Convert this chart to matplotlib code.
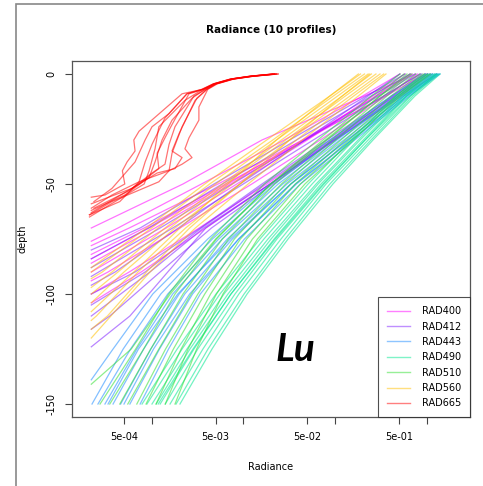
import matplotlib
matplotlib.use("Agg")
import matplotlib.pyplot as plt
from matplotlib.lines import Line2D
from matplotlib.patches import Rectangle

# depth grids (m) shared by the profiles of each band
DEPTH_A = [0, -10, -30, -50, -75, -100, -125, -150]
DEPTH_B = [0, -10, -30, -50, -70, -90, -110]
FLOOR = 2.2e-4  # radiance where a profile stops (detection limit)

# RAD400/412/560: values on DEPTH_B, then the depth where it reaches FLOOR
RAD400 = [
    [0.75, 0.21, 0.016, 2.2e-3],
    [0.96, 0.36, 0.045, 5.3e-3, 5.7e-4],
    [0.85, 0.34, 0.048, 6.4e-3, 8.3e-4],
    [0.66, 0.28, 0.047, 7.3e-3, 1.09e-3],
    [0.58, 0.26, 0.050, 8.5e-3, 1.44e-3],
    [0.80, 0.36, 0.069, 0.0124, 2.04e-3, 3.35e-4],
    [1.01, 0.46, 0.093, 0.018, 3.3e-3, 5.7e-4],
    [0.51, 0.20, 0.028, 3.5e-3, 4.3e-4],
    [0.89, 0.43, 0.095, 0.0196, 3.9e-3, 7.7e-4],
    [0.69, 0.29, 0.044, 6.8e-3, 9.4e-4],
]
RAD400_END = [-70, -78, -82, -86, -90, -94, -100, -76, -104, -84]

RAD412 = [
    [1.09, 0.49, 0.097, 0.0196, 3.9e-3, 1.5e-3, 5.8e-4],
    [1.27, 0.54, 0.10, 0.0196, 3.7e-3, 9.6e-4],
    [0.96, 0.42, 0.081, 0.016, 3.4e-3, 6.6e-4],
    [0.85, 0.34, 0.058, 0.010, 1.7e-3],
    [0.75, 0.30, 0.047, 7.6e-3, 1.24e-3],
    [0.66, 0.25, 0.038, 5.9e-3, 9.2e-4],
    [0.58, 0.22, 0.032, 4.8e-3, 7.5e-4],
    [1.15, 0.51, 0.10, 0.021, 4.5e-3, 1.24e-3, 3.5e-4],
    [1.03, 0.45, 0.088, 0.017, 3.5e-3, 8.5e-4],
    [0.51, 0.23, 0.047, 9.2e-3, 1.96e-3, 4.0e-4],
]
RAD412_END = [-124, -110, -100, -92, -88, -84, -80, -116, -105, -96]

RAD560 = [
    [0.36, 0.18, 0.044, 0.0113, 3.0e-3, 9.6e-4, 3.6e-4],
    [0.34, 0.16, 0.038, 9.2e-3, 2.35e-3, 7.1e-4, 2.5e-4],
    [0.31, 0.146, 0.032, 7.6e-3, 1.8e-3, 5.0e-4],
    [0.28, 0.13, 0.029, 6.4e-3, 1.59e-3, 4.3e-4],
    [0.25, 0.12, 0.026, 5.9e-3, 1.4e-3, 3.7e-4],
    [0.23, 0.107, 0.023, 5.0e-3, 1.18e-3, 2.9e-4],
    [0.21, 0.096, 0.021, 4.3e-3, 1.0e-3],
    [0.19, 0.088, 0.018, 3.8e-3, 8.8e-4],
    [0.18, 0.088, 0.023, 6.8e-3, 2.04e-3, 6.4e-4],
    [0.24, 0.12, 0.032, 9.2e-3, 2.6e-3, 8.8e-4, 3.3e-4],
]
RAD560_END = [-120, -112, -104, -100, -97, -93, -90, -88, -108, -116]

# RAD443/490/510: values on DEPTH_A (None = profile reaches -150)
RAD443 = [
    [1.40, 0.65, 0.164, 0.042, 0.0103, 3.4e-3, 1.53e-3, 7.5e-4],
    [1.33, 0.60, 0.150, 0.037, 8.9e-3, 2.8e-3, 1.22e-3, 5.8e-4],
    [1.27, 0.56, 0.135, 0.033, 7.6e-3, 2.3e-3, 9.8e-4, 4.6e-4],
    [1.21, 0.52, 0.125, 0.030, 6.7e-3, 2.0e-3, 8.2e-4, 3.8e-4],
    [1.15, 0.49, 0.113, 0.027, 5.9e-3, 1.7e-3, 6.9e-4, 3.1e-4],
    [1.09, 0.47, 0.105, 0.024, 5.4e-3, 1.5e-3, 5.9e-4, 2.6e-4],
    [1.03, 0.44, 0.095, 0.022, 4.6e-3, 1.26e-3, 4.9e-4, 2.24e-4],
    [1.30, 0.57, 0.138, 0.033, 7.2e-3, 1.93e-3, 7.2e-4, 3.35e-4],
    [0.98, 0.41, 0.088, 0.020, 4.1e-3, 1.03e-3, 3.8e-4],
    [1.37, 0.62, 0.153, 0.038, 8.9e-3, 2.6e-3, 1.05e-3, 5.0e-4],
]
RAD443_END = [None] * 8 + [-139, None]

RAD490 = [
    [1.40, 0.746, 0.260, 0.095, 0.0308, 0.0110, 4.56e-3, 2.04e-3],
    [1.33, 0.709, 0.247, 0.088, 0.0286, 0.0102, 4.12e-3, 1.85e-3],
    [1.27, 0.675, 0.230, 0.080, 0.0258, 8.96e-3, 3.63e-3, 1.59e-3],
    [1.21, 0.610, 0.213, 0.076, 0.0233, 8.12e-3, 3.19e-3, 1.41e-3],
    [1.15, 0.595, 0.203, 0.0705, 0.0217, 7.34e-3, 2.90e-3, 1.24e-3],
    [1.09, 0.566, 0.188, 0.0654, 0.0201, 6.81e-3, 2.62e-3, 1.12e-3],
    [1.03, 0.538, 0.179, 0.0622, 0.0186, 6.16e-3, 2.43e-3, 1.01e-3],
    [0.958, 0.499, 0.161, 0.0563, 0.0168, 5.57e-3, 2.15e-3, 8.9e-4],
    [0.889, 0.463, 0.150, 0.0509, 0.0152, 5.04e-3, 1.90e-3, 7.87e-4],
    [1.27, 0.658, 0.213, 0.0741, 0.0223, 7.34e-3, 2.83e-3, 1.18e-3],
]
RAD490_END = [None] * 10

RAD510 = [
    [1.09, 0.52, 0.157, 0.047, 0.0143, 6.0e-3, 3.1e-3, 1.8e-3],
    [1.01, 0.49, 0.142, 0.042, 0.0126, 5.1e-3, 2.5e-3, 1.41e-3],
    [0.935, 0.46, 0.129, 0.037, 0.0109, 4.4e-3, 2.1e-3, 1.12e-3],
    [0.845, 0.41, 0.116, 0.033, 9.3e-3, 3.8e-3, 1.73e-3, 8.7e-4],
    [0.765, 0.37, 0.102, 0.029, 8.0e-3, 3.2e-3, 1.42e-3, 6.9e-4],
    [0.692, 0.34, 0.092, 0.026, 6.9e-3, 2.7e-3, 1.2e-3, 5.5e-4],
    [0.610, 0.31, 0.082, 0.022, 5.9e-3, 2.2e-3, 9.8e-4, 4.5e-4],
    [0.566, 0.28, 0.074, 0.020, 5.1e-3, 1.8e-3, 8.2e-4, 3.5e-4],
    [0.512, 0.25, 0.065, 0.017, 4.4e-3, 1.54e-3, 6.7e-4, 2.74e-4],
    [0.658, 0.31, 0.079, 0.020, 5.0e-3, 1.6e-3, 6.0e-4],
]
RAD510_END = [None] * 9 + [-141]

# RAD665: irregular profiles, own depths
RAD665_DEPTH = [
    [0, -1, -2.3, -4.5, -7, -9, -26, -30, -35, -40, -44, -50, -55, -56],
    [0, -1, -2.3, -4.5, -7, -15, -21, -29, -34, -38, -41, -44, -49, -55, -61],
    [0, -1, -2.3, -4.5, -7, -11, -21, -30, -40, -47, -55, -62],
    [0, -1, -2.3, -4.5, -7, -9, -20, -32, -40, -49, -58, -64],
    [0, -1, -2.3, -4.5, -7, -12, -27, -35, -38, -43, -45, -52, -59],
    [0, -1, -2.3, -4.5, -7, -12, -24, -34, -44, -50, -56, -65],
    [0, -1, -2.3, -4.5, -7, -10, -24, -32, -41, -45, -53, -61],
    [0, -1, -2.3, -4.5, -7, -9, -18, -24, -30, -40, -52, -58],
    [0, -1, -2.3, -4.5, -7, -9, -23, -29, -36, -43, -50, -63],
    [0, -1, -2.3, -4.5, -7, -11, -24, -36, -44, -49, -58, -64],
]
RAD665 = [
    [0.022, 0.0124, 0.0075, 0.0049, 0.0036, 2.15e-3, 7.3e-4, 6.4e-4, 6.6e-4, 5.4e-4, 4.8e-4, 5.1e-4, 3.1e-4, 2.2e-4],
    [0.023, 0.013, 0.0078, 0.0052, 0.0041, 3.28e-3, 3.28e-3, 2.56e-3, 2.31e-3, 2.76e-3, 2.15e-3, 1.55e-3, 7.3e-4, 3.7e-4, 2.2e-4],
    [0.022, 0.0122, 0.0074, 0.0048, 0.0038, 2.76e-3, 1.67e-3, 1.30e-3, 1.09e-3, 9.4e-4, 5.1e-4, 2.2e-4],
    [0.021, 0.0118, 0.0072, 0.0047, 0.0035, 2.43e-3, 1.40e-3, 1.01e-3, 8.5e-4, 7.3e-4, 4.5e-4, 2.1e-4],
    [0.024, 0.0128, 0.0077, 0.0050, 0.0040, 2.98e-3, 2.0e-3, 1.67e-3, 2.15e-3, 1.80e-3, 1.15e-3, 6.1e-4, 2.2e-4],
    [0.022, 0.012, 0.0073, 0.0048, 0.0036, 2.31e-3, 1.20e-3, 1.09e-3, 9.4e-4, 8.3e-4, 4.8e-4, 2.1e-4],
    [0.023, 0.0126, 0.0076, 0.0050, 0.0039, 2.90e-3, 1.80e-3, 1.55e-3, 1.40e-3, 1.01e-3, 5.7e-4, 2.35e-4],
    [0.021, 0.0119, 0.0073, 0.0047, 0.0036, 2.43e-3, 1.55e-3, 1.01e-3, 8.5e-4, 6.6e-4, 3.7e-4, 2.35e-4],
    [0.022, 0.0123, 0.0075, 0.0049, 0.0037, 2.56e-3, 1.67e-3, 1.40e-3, 1.15e-3, 1.20e-3, 7.3e-4, 2.2e-4],
    [0.024, 0.013, 0.0079, 0.0051, 0.0040, 3.12e-3, 2.15e-3, 1.67e-3, 1.55e-3, 1.20e-3, 3.7e-4, 2.1e-4],
]

BANDS = ["RAD400", "RAD412", "RAD443", "RAD490", "RAD510", "RAD560", "RAD665"]
COLORS = ["#ff00ff", "#8020ff", "#1e8cff", "#00e890", "#30e030", "#ffc000", "#ff0000"]

XTICKS = [5e-4, 1e-3, 5e-3, 1e-2, 5e-2, 1e-1, 5e-1, 1]
XLABELS = ["5e-04", "", "5e-03", "", "5e-02", "", "5e-01", ""]


def profiles(vals, ends, grid):
    out = []
    for v, e in zip(vals, ends):
        d = list(grid[:len(v)])
        r = list(v)
        if e is not None:
            d.append(e)
            r.append(FLOOR)
        out.append((r, d))
    return out


groups = [
    profiles(RAD400, RAD400_END, DEPTH_B),
    profiles(RAD412, RAD412_END, DEPTH_B),
    profiles(RAD443, RAD443_END, DEPTH_A),
    profiles(RAD490, RAD490_END, DEPTH_A),
    profiles(RAD510, RAD510_END, DEPTH_A),
    profiles(RAD560, RAD560_END, DEPTH_B),
    list(zip(RAD665, RAD665_DEPTH)),
]

fig = plt.figure(figsize=(4.83, 4.86), dpi=100)
ax = fig.add_axes([72 / 483, 1 - 417 / 486, 398 / 483, 356 / 486])

for prof, col in zip(groups, COLORS):
    for r, d in prof:
        ax.plot(r, d, color=col, alpha=0.55, lw=0.9)

ax.set_xscale("log")
ax.set_xlim(1.355e-4, 2.97)
ax.set_ylim(-155.9, 5.9)
ax.set_xticks(XTICKS)
ax.set_xticklabels(XLABELS)
ax.minorticks_off()
ax.set_yticks([0, -50, -100, -150])
ax.set_yticklabels(["0", "-50", "-100", "-150"], rotation=90, va="center")
ax.tick_params(direction="out", length=5, width=0.8, labelsize=7, color="#444444", pad=6)

for s in ax.spines.values():
    s.set_color("#555555")
    s.set_linewidth(0.9)

ax.set_title("Radiance (10 profiles)", fontsize=7.5, fontweight="bold", pad=20)
ax.set_xlabel("Radiance", fontsize=7, labelpad=14)
ax.set_ylabel("depth", fontsize=7, labelpad=14)

handles = [Line2D([], [], color=c, alpha=0.5, lw=1) for c in COLORS]
leg = ax.legend(handles, BANDS, loc="lower right", fontsize=7, frameon=True,
                fancybox=False, borderaxespad=0, handlelength=2.4,
                labelspacing=0.55, borderpad=0.9, handletextpad=1.2)
leg.get_frame().set_edgecolor("#222222")
leg.get_frame().set_linewidth(0.8)

ax.text(0.56, 0.19, "Lu", transform=ax.transAxes, fontsize=28,
        fontweight="bold", fontstyle="italic", family="Lato",
        ha="center", va="center")

fig.patches.append(Rectangle((16 / 483, -0.1), 2, 1.1 - 4 / 486,
                             transform=fig.transFigure, fill=False,
                             edgecolor="#888888", lw=1.2))

plt.savefig("out.png", dpi=100)
